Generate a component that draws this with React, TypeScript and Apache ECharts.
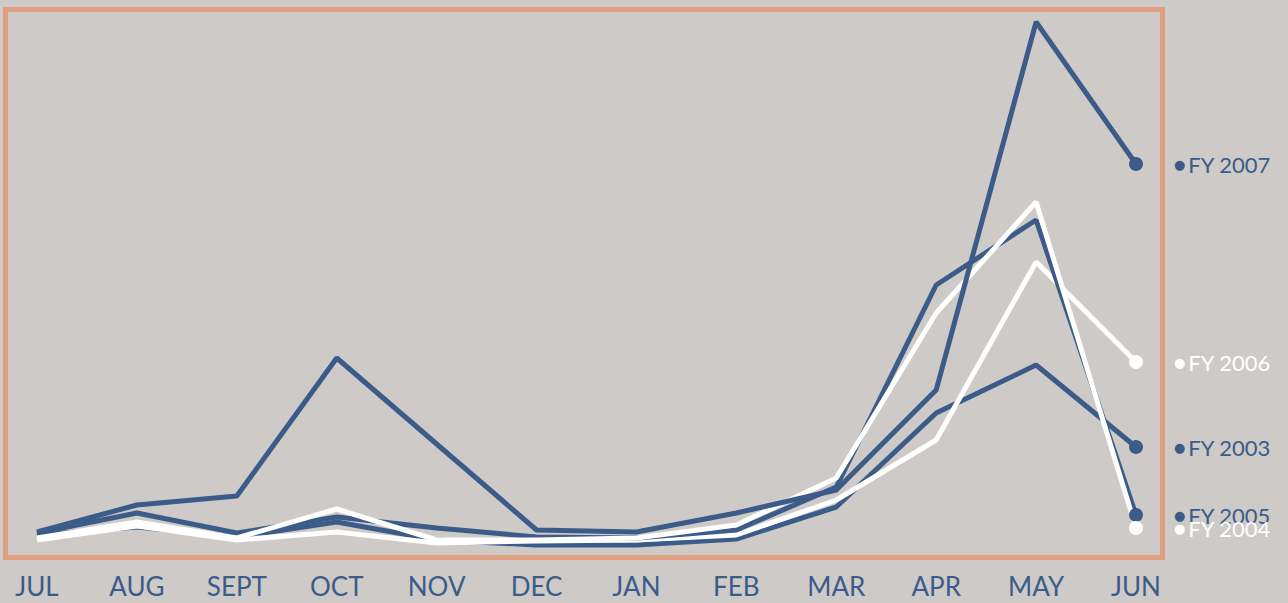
import React, { useEffect, useRef } from "react";
import * as echarts from "echarts";

const months = ["JUL", "AUG", "SEPT", "OCT", "NOV", "DEC", "JAN", "FEB", "MAR", "APR", "MAY", "JUN"];

const fy2003 = [4, 5.6, 3.6, 6.6, 3, 2, 2, 3.2, 9.6, 28.4, 38, 21.6];
const fy2004 = [3.4, 6.6, 3.4, 9.2, 3, 3, 3.4, 6, 15.4, 48.4, 70.6, 5.4];
const fy2005 = [4.4, 8.4, 4.4, 7.6, 5.4, 3.6, 3.4, 5, 13.6, 54, 67, 8];
const fy2006 = [3, 5.8, 3, 4.6, 2.4, 2.8, 3, 4, 11, 23, 58.6, 38.6];
const fy2007 = [4.6, 10, 11.8, 39.4, 22.2, 5, 4.6, 8.4, 13, 33, 106.6, 78.2];

const BLUE = "#3b5b89";
const WHITE = "#ffffff";
const BG = "#cecac7";
const BORDER = "#e29e80";
const FONT = "Lato, 'Open Sans', sans-serif";

function makeSeries(name: string, data: number[], color: string) {
  return {
    name,
    type: "line",
    symbol: "none",
    data: data.map((v, i) =>
      i === data.length - 1 ? { value: v, symbol: "circle", symbolSize: 14 } : v
    ),
    lineStyle: { color, width: 5 },
    itemStyle: { color },
    emphasis: { disabled: true },
    endLabel: {
      show: true,
      distance: 38,
      formatter: "{d|●}" + name,
      color,
      fontFamily: FONT,
      fontSize: 22,
      rich: {
        d: { fontSize: 13, color, padding: [0, 3, 0, 0], fontFamily: "DejaVu Sans" },
      },
    },
  };
}

export default function App() {
  const ref = useRef<HTMLDivElement>(null);
  useEffect(() => {
    document.body.style.margin = "0";
    const chart = echarts.init(ref.current!, null, { renderer: "svg" });
    chart.setOption({
      animation: false,
      backgroundColor: BG,
      grid: { left: 37, right: 152, top: 10, bottom: 48 },
      xAxis: {
        type: "category",
        data: months,
        boundaryGap: false,
        axisLine: { show: false },
        axisTick: { show: false },
        splitLine: { show: false },
        axisLabel: { color: BLUE, fontSize: 26, fontFamily: FONT, margin: 18 },
      },
      yAxis: {
        type: "value",
        min: 0,
        max: 109,
        show: false,
        splitLine: { show: false },
      },
      graphic: [
        {
          type: "rect",
          shape: { x: 5.5, y: 9.5, width: 1157, height: 548 },
          style: { fill: "none", stroke: BORDER, lineWidth: 5 },
          z: -1,
        },
      ],
      series: [
        makeSeries("FY 2003", fy2003, BLUE),
        makeSeries("FY 2006", fy2006, WHITE),
        makeSeries("FY 2005", fy2005, BLUE),
        makeSeries("FY 2004", fy2004, WHITE),
        makeSeries("FY 2007", fy2007, BLUE),
      ],
    });
    return () => chart.dispose();
  }, []);
  return <div ref={ref} style={{ width: 1288, height: 603, background: BG }} />;
}
